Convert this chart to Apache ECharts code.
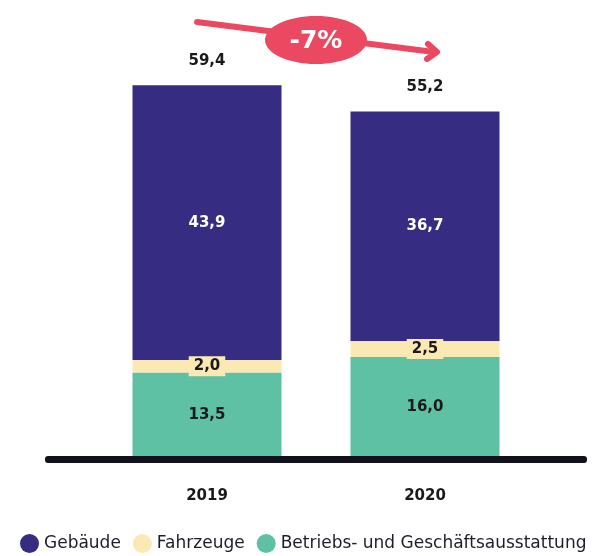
<!DOCTYPE html>
<html>
<head>
<meta charset="utf-8">
<script src="https://cdn.jsdelivr.net/npm/echarts@6/dist/echarts.min.js"></script>
<style>
  html, body { margin: 0; padding: 0; background: #fff; }
  #chart { width: 605px; height: 556px; }
</style>
</head>
<body>
<div id="chart"></div>
<script>
// Daten
const years = ["2019", "2020"];
const gebaeude = [43.9, 36.7];
const fahrzeuge = [2.0, 2.5];
const ausstattung = [13.5, 16.0];
const totals = [59.4, 55.2];
const changeText = "-7%";

const fmt = (v) => v.toFixed(1).replace(".", ",");
const FONT = "DejaVu Sans";

const chart = echarts.init(document.getElementById("chart"));

const option = {
  animation: false,
  textStyle: { fontFamily: FONT },
  grid: { left: 98, right: 71, top: 19, bottom: 99 },
  legend: {
    data: ["Gebäude", "Fahrzeuge", "Betriebs- und Geschäftsausstattung"],
    left: 15,
    top: 529,
    icon: "circle",
    itemWidth: 19,
    itemHeight: 19,
    itemGap: 12,
    textStyle: { fontSize: 17, color: "#1e1e2a", fontFamily: FONT },
  },
  xAxis: {
    type: "category",
    data: years,
    axisLine: { show: false },
    axisTick: { show: false },
    axisLabel: { margin: 32, fontSize: 15, fontWeight: "bold", color: "#1a1a1a" },
  },
  yAxis: {
    type: "value",
    min: 0,
    max: 70,
    show: false,
  },
  series: [
    {
      name: "Summe",
      type: "bar",
      data: totals,
      barWidth: 149,
      barGap: "-100%",
      itemStyle: { color: "rgba(0,0,0,0)" },
      label: {
        show: true,
        position: "top",
        distance: 17,
        formatter: (p) => fmt(p.value),
        fontSize: 15,
        fontWeight: "bold",
        color: "#1a1a1a",
      },
      z: 1,
    },
    {
      name: "Betriebs- und Geschäftsausstattung",
      type: "bar",
      stack: "s",
      data: ausstattung,
      barWidth: 149,
      itemStyle: { color: "#5FC1A3" },
      label: {
        show: true,
        position: "inside",
        formatter: (p) => fmt(p.value),
        fontSize: 15,
        fontWeight: "bold",
        color: "#1a1a1a",
      },
      z: 2,
    },
    {
      name: "Fahrzeuge",
      type: "bar",
      stack: "s",
      data: fahrzeuge,
      barWidth: 149,
      itemStyle: { color: "#FBE9B4" },
      label: {
        show: true,
        position: "inside",
        formatter: (p) => fmt(p.value),
        fontSize: 15,
        fontWeight: "bold",
        color: "#1a1a1a",
        backgroundColor: "#FBE9B4",
        padding: [3, 5, 2, 5],
      },
      z: 4,
    },
    {
      name: "Gebäude",
      type: "bar",
      stack: "s",
      data: gebaeude,
      barWidth: 149,
      itemStyle: { color: "#362C82" },
      label: {
        show: true,
        position: "inside",
        formatter: (p) => fmt(p.value),
        fontSize: 15,
        fontWeight: "bold",
        color: "#ffffff",
      },
      z: 2,
    },
  ],
  graphic: [
    // Grundlinie
    {
      type: "rect",
      shape: { x: 45, y: 456, width: 542, height: 7, r: 3 },
      style: { fill: "#12121f" },
      z: 10,
    },
    // Pfeil
    {
      type: "line",
      shape: { x1: 197, y1: 22, x2: 434, y2: 52 },
      style: { stroke: "#EB4862", lineWidth: 6, lineCap: "round" },
      z: 10,
    },
    {
      type: "polyline",
      shape: { points: [[428, 44], [437, 52], [427, 59]] },
      style: { stroke: "#EB4862", lineWidth: 6, lineCap: "round", lineJoin: "round", fill: null },
      z: 10,
    },
    {
      type: "ellipse",
      shape: { cx: 316, cy: 40, rx: 51, ry: 24 },
      style: { fill: "#EB4862" },
      z: 11,
    },
    {
      type: "text",
      x: 316,
      y: 41,
      style: {
        text: changeText,
        fill: "#ffffff",
        font: "bold 25px " + FONT,
        textAlign: "center",
        textVerticalAlign: "middle",
      },
      z: 12,
    },
  ],
};

chart.setOption(option);
</script>
</body>
</html>
